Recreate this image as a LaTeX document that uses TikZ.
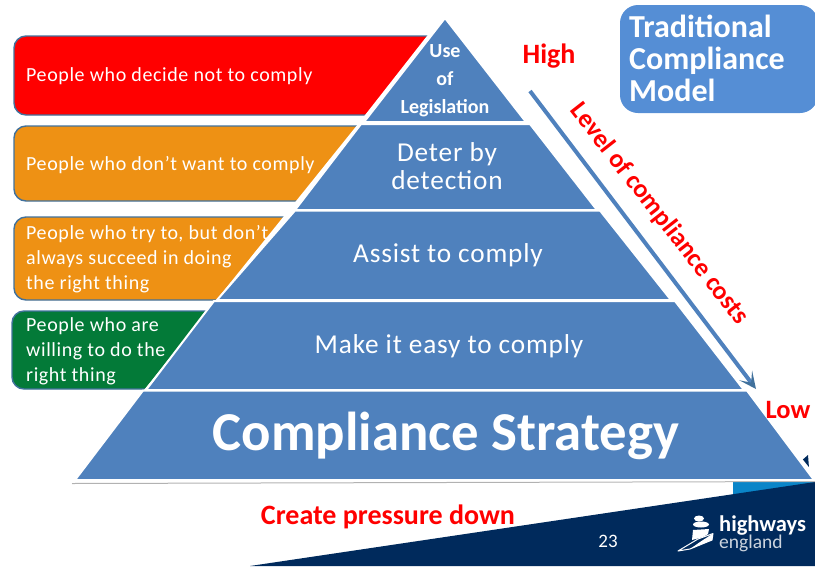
\documentclass[tikz,border=0pt]{standalone}
\usepackage{fontspec}
\setmainfont{Carlito}
\usetikzlibrary{arrows.meta}
\definecolor{tierblue}{HTML}{4F81BD}
\definecolor{modelblue}{HTML}{558ED5}
\definecolor{edgeblue}{HTML}{41719C}
\definecolor{boxorange}{HTML}{EE9114}
\definecolor{boxgreen}{HTML}{037A38}
\definecolor{navy}{HTML}{002A5C}
\definecolor{cyanband}{HTML}{0A85C8}
\tikzset{
 groupbox/.style={draw=edgeblue,line width=1.4pt,rounded corners=12pt},
 tier/.style={fill=tierblue,draw=white,line width=2pt,line join=miter},
 grouptext/.style={text=white,anchor=west,align=left,inner sep=0pt,font=\fontsize{20}{25}\selectfont\addfontfeatures{LetterSpace=3}},
 tiertext/.style={text=white,align=center,inner sep=0pt,font=\fontsize{27.3}{28}\selectfont\addfontfeatures{LetterSpace=3}},
 redlabel/.style={text=red,inner sep=0pt,font=\bfseries\fontsize{28}{30}\selectfont},
}
\begin{document}
\begin{tikzpicture}[x=1pt,y=-1pt]
\useasboundingbox (0,0) rectangle (815,566);
% footer
\fill[cyanband] (733,480) rectangle (815,500);
\fill[navy] (250,566) -- (815,482) -- (815,566) -- cycle;
\fill[navy] (800,462) -- (808,455) -- (809,468) -- cycle;
% group boxes
\fill[red,groupbox] (14,36) rectangle (445,115);
\fill[boxorange,groupbox] (14,126) rectangle (400,201);
\fill[boxorange,groupbox] (14,217) rectangle (320,300);
\fill[boxgreen,groupbox] (12,311) rectangle (260,389);
\node[grouptext] (g1) at (26,76) {People who decide not to comply};
\node[grouptext] (g2) at (26,165) {People who don’t want to comply};
\node[grouptext] (g3) at (26,259) {People who try to, but don’t\\always succeed in doing\\the right thing};
\node[grouptext] (g4) at (26,351) {People who are\\willing to do the\\right thing};
% pyramid
\fill[white] (445,13) -- (533,124) -- (820,481) -- (70,482) -- (358,124) -- cycle;
\draw[gray!60,line width=1pt] (72,483.5) -- (815,481.5);
\draw[tier] (445,18) -- (526,122) -- (364,122) -- cycle;
\draw[tier] (361,124) -- (530,124) -- (597,210) -- (295,210) -- cycle;
\draw[tier] (295,210.5) -- (600,210.5) -- (671,300) -- (217,300) -- cycle;
\draw[tier] (214,301) -- (675,301) -- (744,390) -- (146,390) -- cycle;
\draw[tier] (143,390.5) -- (747,390.5) -- (814,480) -- (75,480) -- cycle;
\node[text=white,align=center,inner sep=0pt,font=\bfseries\fontsize{20}{28}\selectfont] (t1) at (445,81) {Use\\of\\Legislation};
\node[tiertext] (t2) at (447,166) {Deter by\\detection};
\node[tiertext] (t3) at (448,255) {Assist to comply};
\node[tiertext] (t4) at (449,346) {Make it easy to comply};
\node[text=white,inner sep=0pt,font=\bfseries\fontsize{54.8}{56}\selectfont] (t5) at (446,436) {Compliance Strategy};
% arrow
\coordinate (hi) at (530,91);
\coordinate (lo) at (756,389);
\draw[-{Stealth[length=17pt,width=16pt,inset=9pt,color=edgeblue]},line width=4pt,tierblue] (hi) -- (lo);
% labels
\node[redlabel] (high) at (549,56) {High};
\node[redlabel,font=\bfseries\fontsize{26.5}{28}\selectfont] (low) at (788,410) {Low};
\node[redlabel,rotate=-52,font=\bfseries\fontsize{26}{28}\selectfont] (cost) at (659,214) {Level of compliance costs};
\node[redlabel] (press) at (388,517) {Create pressure down};
% model
\fill[modelblue] (620,23) arc[start angle=180,end angle=270,radius=18] -- (800,5) arc[start angle=-90,end angle=0,radius=18] -- (818,95) arc[start angle=0,end angle=90,radius=18] -- (638,113) arc[start angle=90,end angle=180,radius=18] -- cycle;
\node[text=white,anchor=west,align=left,inner sep=0pt,font=\bfseries\fontsize{32}{32}\selectfont] (model) at (629,58) {Traditional\\Compliance\\Model};
% page number and logo
\node[text=white,inner sep=0pt,font=\fontsize{19}{20}\selectfont] (page) at (608,541) {23};
\node[text=white,anchor=west,inner sep=0pt,font=\bfseries\fontsize{22.5}{23}\selectfont] (hw) at (719,526) {highways};
\node[text=white!80!navy,anchor=west,inner sep=0pt,font=\fontsize{19.5}{20}\selectfont] (en) at (719,543) {england};
\fill[white] (699,518.5) ellipse[x radius=5,y radius=3];
\fill[white] (701,524.5) ellipse[x radius=8,y radius=3];
\fill[white] (693,530) -- (709,529) -- (708,534) -- (703,537) -- (692,540) -- cycle;
\draw[white,line width=1pt,line join=round] (678,551) -- (698,539) -- (713,533.5) -- (712,540) -- (690,549) -- cycle;
\fill[white] (690,549) -- (712,540) -- (713,533.5) -- (700,542) -- cycle;
\end{tikzpicture}
\end{document}
